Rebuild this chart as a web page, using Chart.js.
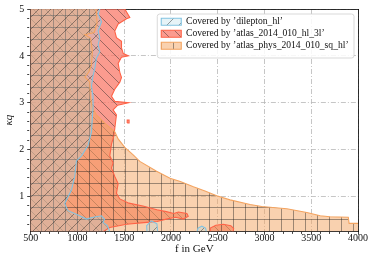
<!DOCTYPE html>
<html><head><meta charset="utf-8">
<script src="https://cdn.jsdelivr.net/npm/chart.js@4.4.1/dist/chart.umd.min.js"></script>
<style>html,body{margin:0;padding:0;background:#fff}</style>
</head><body>
<canvas id="c" width="374" height="261"></canvas>
<script>
// ---- data ----
const xRange = [500, 4000];
const yRange = [0.26, 5];
const xMajorTicks = [500, 1000, 1500, 2000, 2500, 3000, 3500, 4000];
const yMajorTicks = [1, 2, 3, 4, 5];
const xMinorStep = 100;
const yMinorStep = 0.2;
const seriesNames = [
  "Covered by \u2019dilepton_hl\u2019",
  "Covered by \u2019atlas_2014_010_hl_3l\u2019",
  "Covered by \u2019atlas_phys_2014_010_sq_hl\u2019"
];
const xTitle = "f in GeV";
const yTitle = "\u03BAq";

// region boundaries (f in GeV, kappa_q); null separates closed pieces
const dileptonF = [450,450,1239,1239,1221,1257,1221,1239,1221,1239,1203,1185,1167,1150,1167,1167,1150,1113,1043,989,971,936,864,899,1025,1096,1167,1257,1290,1274,1320,1345,1345,450,null,1745,1740,1790,1850,1860,1745,null,2270,2290,2330,2370,2385,2270];
const dileptonK = [0.1,5.5,5.5,5.0,4.9,4.73,4.53,4.39,4.24,4.09,3.95,3.73,3.58,3.36,3.14,2.92,2.38,2.09,1.87,1.76,1.43,1.14,0.85,0.70,0.59,0.52,0.56,0.59,0.52,0.45,0.38,0.26,0.1,0.1,null,0.2,0.38,0.48,0.42,0.2,0.2,null,0.2,0.33,0.37,0.33,0.2,0.2];

const hl3lF = [450,450,1500,1506,1560,1525,1435,1399,1417,1471,1471,1490,1545,1470,1435,1453,1471,1453,1399,1364,1399,1545,1430,1381,1417,1399,1390,1364,1346,1381,1364,1399,1435,1417,1453,1550,1700,1850,1950,2030,2080,2170,2185,2130,2050,1950,1850,1740,1525,1346,1280,1260,450,null,2420,2420,2480,2560,2640,2670,2660,2420,null,1532,1552,1552,1532,1532];
const hl3lK = [0.1,5.5,5.5,5.0,4.82,4.79,4.68,4.53,4.39,4.31,4.17,4.05,4.0,3.97,3.84,3.65,3.54,3.44,3.29,3.14,3.03,3.0,2.95,2.85,2.74,2.45,2.3,2.12,1.87,1.72,1.61,1.43,1.28,1.07,0.95,0.86,0.8,0.72,0.68,0.64,0.67,0.64,0.58,0.52,0.56,0.52,0.47,0.45,0.41,0.34,0.26,0.1,0.1,null,0.2,0.33,0.39,0.41,0.38,0.32,0.2,0.2,null,2.57,2.57,2.63,2.63,2.57];

const sqF = [450,450,1200,1200,1210,1180,1080,1140,1160,1150,1120,1080,1130,1140,1160,1200,1300,1400,1435,1506,1590,1667,1846,1990,2100,2240,2364,2489,2632,2846,2971,3239,3453,3596,3700,3896,3905,4100,4100,450];
const sqK = [0.1,5.5,5.5,5.0,4.7,4.5,4.45,4.38,4.1,3.8,3.65,3.55,3.45,3.1,2.9,2.75,2.55,2.38,2.23,2.05,1.9,1.75,1.54,1.39,1.32,1.21,1.12,1.02,0.93,0.83,0.79,0.74,0.66,0.59,0.57,0.56,0.43,0.43,0.1,0.1];

// ---- helpers ----
const FONT = "'Liberation Serif', 'DejaVu Serif', serif";
Chart.defaults.font.family = FONT;
Chart.defaults.color = '#111';

function toPoints(fs, ks) {
  return fs.map((f, i) => (f === null ? {x: null, y: null} : {x: f, y: ks[i]}));
}
const canvas = document.getElementById('c');
const ctx = canvas.getContext('2d');

function hatch(bg, kind) {
  const s = 12;
  const c = document.createElement('canvas');
  c.width = s; c.height = s;
  const g = c.getContext('2d');
  g.fillStyle = bg; g.fillRect(0, 0, s, s);
  g.strokeStyle = 'rgba(30,30,30,0.48)';
  g.lineWidth = 0.9;
  g.beginPath();
  if (kind === '/') {
    g.moveTo(-1, s + 1); g.lineTo(s + 1, -1);
    g.moveTo(-1, 1); g.lineTo(1, -1);
    g.moveTo(s - 1, s + 1); g.lineTo(s + 1, s - 1);
  } else if (kind === '\\') {
    g.moveTo(-1, -1); g.lineTo(s + 1, s + 1);
    g.moveTo(s - 1, -1); g.lineTo(s + 1, 1);
    g.moveTo(-1, s - 1); g.lineTo(1, s + 1);
  } else {
    g.moveTo(5.5, 0); g.lineTo(5.5, s);
    g.moveTo(0, 3.5); g.lineTo(s, 3.5);
  }
  g.stroke();
  return ctx.createPattern(c, 'repeat');
}

const isMajorX = v => xMajorTicks.some(t => Math.abs(t - v) < 1e-6);
const isMajorY = v => yMajorTicks.some(t => Math.abs(t - v) < 1e-6);

function minorList(lo, hi, step) {
  const out = [];
  const n0 = Math.ceil(lo / step - 1e-9), n1 = Math.floor(hi / step + 1e-9);
  for (let n = n0; n <= n1; n++) out.push(+(n * step).toFixed(6));
  return out;
}

const legendInside = {
  id: 'legendInside',
  beforeUpdate(chart) {
    const lg = chart.legend;
    if (!lg || lg._inside) return;
    lg._inside = true;
    const fit = lg.fit;
    lg.fit = function () { fit.call(this); this._fw = this.width; this.width = 0; };
    lg._layers = function () {
      return [{ z: 10, draw: (area) => {
        const f = lg._frame;
        if (f) {
          const c = chart.ctx;
          c.save();
          c.beginPath();
          c.roundRect(f.x, f.y, f.w, f.h, 2.5);
          c.fillStyle = 'rgba(255,255,255,0.85)';
          c.fill();
          c.lineWidth = 0.8;
          c.strokeStyle = '#cfcfcf';
          c.stroke();
          c.restore();
        }
        lg.draw(area);
      }}];
    };
  },
  afterLayout(chart) {
    const lg = chart.legend, ca = chart.chartArea, lo = lg.options.labels;
    const c = chart.ctx;
    c.save();
    c.font = lo.font.size + 'px ' + FONT;
    const tw = Math.max(...lg.legendItems.map(it => c.measureText(it.text).width));
    c.restore();
    const inner = lo.padding + lo.boxWidth + lo.font.size / 2 + tw;
    const frameW = inner + 7;
    const frameRight = ca.right - 4;
    const frameLeft = frameRight - frameW;
    lg.left = frameLeft + 1.6;
    lg.top = ca.top + 5.5;
    lg.width = frameW;
    lg.right = lg.left + frameW;
    lg.bottom = lg.top + 44;
    lg._frame = {x: frameLeft, y: ca.top + 5, w: frameW, h: 44};
  }
};

const common = {
  pointRadius: 0, pointHoverRadius: 0, pointHitRadius: 0,
  borderWidth: 1.1, fill: 'shape', clip: 0, spanGaps: false, tension: 0
};

new Chart(ctx, {
  type: 'line',
  data: {
    datasets: [
      Object.assign({}, common, {
        label: seriesNames[0], data: toPoints(dileptonF, dileptonK), order: 0,
        backgroundColor: hatch('rgba(173,216,230,0.3)', '/'), borderColor: 'rgb(130,195,225)'
      }),
      Object.assign({}, common, {
        label: seriesNames[1], data: toPoints(hl3lF, hl3lK), order: 2,
        backgroundColor: hatch('rgba(250,120,104,0.74)', '\\'), borderColor: 'rgb(255,99,71)'
      }),
      Object.assign({}, common, {
        label: seriesNames[2], data: toPoints(sqF, sqK), order: 1,
        backgroundColor: hatch('rgba(244,164,96,0.5)', '+'), borderColor: 'rgb(244,164,96)'
      })
    ]
  },
  options: {
    responsive: false, animation: false, events: [],
    layout: {padding: {left: 3, right: 16, top: 9, bottom: 3}},
    plugins: {
      tooltip: {enabled: false},
      filler: {drawTime: 'beforeDatasetsDraw'},
      legend: {
        position: 'right', align: 'start',
        labels: {
          boxWidth: 20, boxHeight: 7, padding: 2.4,
          font: {size: 9.6}, color: '#111',
          sort: (a, b) => a.datasetIndex - b.datasetIndex
        }
      }
    },
    scales: {
      x: {
        type: 'linear', position: 'bottom', min: xRange[0], max: xRange[1],
        afterBuildTicks: (axis) => { axis.ticks = minorList(xRange[0], xRange[1], xMinorStep).map(v => ({value: v})); },
        ticks: {autoSkip: false, maxRotation: 0, padding: -1, font: {size: 10, lineHeight: 1.0}, color: '#111',
          callback: (v) => (isMajorX(v) ? String(v) : '')},
        grid: {
          color: (c) => (c.tick && isMajorX(c.tick.value) ? '#b8b8b8' : 'rgba(0,0,0,0)'),
          lineWidth: 0.8, tickLength: 3.5, tickWidth: 0.8, tickColor: '#111',
          tickBorderDash: (c) => (c.tick && isMajorX(c.tick.value) ? [] : [2, 10])
        },
        border: {display: true, color: '#000', width: 0.8, dash: [5, 2, 1, 2]},
        title: {display: true, text: xTitle, font: {size: 11}, color: '#111', padding: {top: 0, bottom: 2}}
      },
      y: {
        type: 'linear', position: 'left', min: yRange[0], max: yRange[1],
        afterBuildTicks: (axis) => { axis.ticks = minorList(0.4, yRange[1], yMinorStep).map(v => ({value: v})); },
        ticks: {autoSkip: false, padding: 3, font: {size: 10}, color: '#111',
          callback: (v) => (isMajorY(v) ? String(v) : '')},
        grid: {
          color: (c) => (c.tick && isMajorY(c.tick.value) ? '#b8b8b8' : 'rgba(0,0,0,0)'),
          lineWidth: 0.8, tickLength: 3.5, tickWidth: 0.8, tickColor: '#111',
          tickBorderDash: (c) => (c.tick && isMajorY(c.tick.value) ? [] : [2, 10])
        },
        border: {display: true, color: '#000', width: 0.8, dash: [5, 2, 1, 2]},
        title: {display: true, text: yTitle, font: {size: 11, style: 'italic'}, color: '#111', padding: {top: 0, bottom: 0}}
      },
      xTop: {
        type: 'linear', position: 'top', min: xRange[0], max: xRange[1],
        ticks: {display: false}, grid: {display: false, drawTicks: false},
        border: {display: true, color: '#000', width: 0.8}
      },
      yRight: {
        type: 'linear', position: 'right', min: yRange[0], max: yRange[1],
        ticks: {display: false}, grid: {display: false, drawTicks: false},
        border: {display: true, color: '#000', width: 0.8}
      }
    }
  },
  plugins: [legendInside]
});
</script>
</body></html>
